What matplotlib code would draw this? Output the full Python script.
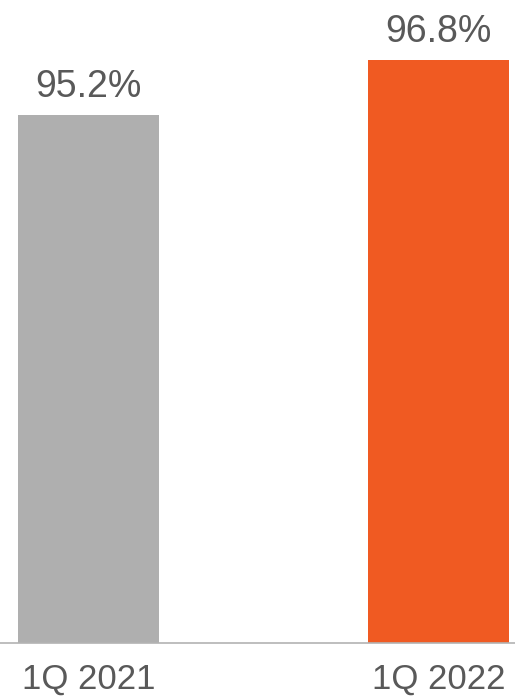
import matplotlib

matplotlib.use("Agg")
import matplotlib.pyplot as plt

categories = ["1Q 2021", "1Q 2022"]
values = [95.2, 96.8]
bar_colors = ["#afafaf", "#f05a22"]

plt.rcParams["font.family"] = ["Liberation Sans", "DejaVu Sans"]
text_color = "#595959"

fig = plt.figure(figsize=(5.15, 6.97), dpi=100)
ax = fig.add_axes([0.0, 0.0775, 1.0, 0.9225])

x = list(range(len(categories)))
base = 80.0
ax.bar(x, [v - base for v in values], bottom=base, width=0.403, color=bar_colors)

# value labels sit just above each bar
for xi, v in zip(x, values):
    ax.annotate(f"{v:.1f}%", (xi, v), xytext=(0, 13), textcoords="offset points",
                ha="center", va="baseline", fontsize=27, color=text_color)

ax.set_xlim(-0.253, 1.219)
ax.set_ylim(base, 98.52)
ax.set_xticks(x)
ax.set_xticklabels(categories, fontsize=25, color=text_color)
ax.tick_params(axis="x", length=0, pad=14)
ax.set_yticks([])

for side in ("top", "left", "right"):
    ax.spines[side].set_visible(False)
ax.spines["bottom"].set_color("#b3b3b3")
ax.spines["bottom"].set_linewidth(1.2)

fig.savefig("out.png", dpi=100)
